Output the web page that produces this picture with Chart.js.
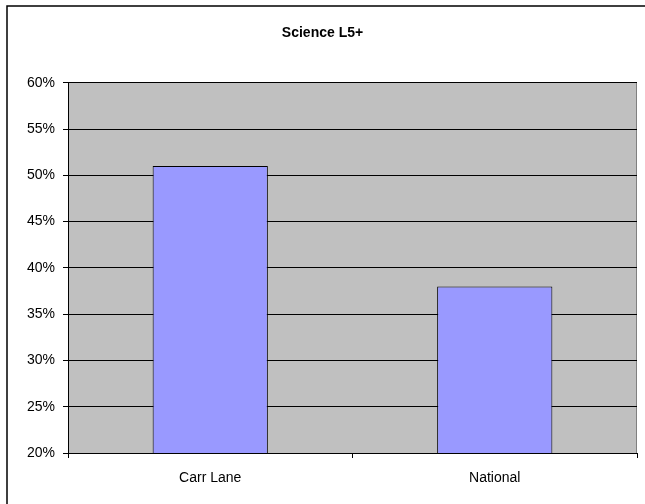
<!DOCTYPE html>
<html>
<head>
<meta charset="utf-8">
<script src="https://cdn.jsdelivr.net/npm/chart.js@4/dist/chart.umd.min.js"></script>
<style>
  html, body { margin: 0; padding: 0; background: #fff; }
  #wrap { width: 645px; height: 504px; }
</style>
</head>
<body>
<div id="wrap"><canvas id="chart1"></canvas></div>
<script>
// Values
const categories = ["Carr Lane", "National"];
const scienceL5 = [51, 38];
const yTicks = [20, 25, 30, 35, 40, 45, 50, 55, 60];

// grey plot background + outer frame like the Excel chart area
const chartBg = {
    id: 'chartBg',
    beforeDraw(chart) {
        const a = chart.chartArea;
        const c = chart.ctx;
        c.save();
        c.fillStyle = '#c0c0c0';
        c.fillRect(a.left, a.top, a.right - a.left, a.bottom - a.top);
        c.strokeStyle = '#808080';
        c.lineWidth = 1;
        c.beginPath();
        c.moveTo(a.right - 0.5, a.top);
        c.lineTo(a.right - 0.5, a.bottom);
        c.stroke();
        c.restore();
    },
    afterDraw(chart) {
        const c = chart.ctx;
        c.save();
        c.strokeStyle = '#000';
        c.lineWidth = 1.5;
        c.beginPath();
        c.moveTo(7, 504);
        c.lineTo(7, 6);
        c.lineTo(645, 6);
        c.stroke();
        c.restore();
    }
};

const ctx = document.getElementById('chart1').getContext('2d');
const myChart = new Chart(ctx, {
    type: 'bar',
    data: {
        labels: categories,
        datasets: [
            {
                label: 'Science L5+',
                data: scienceL5,
                backgroundColor: '#9999ff',
                borderColor: '#000000',
                borderWidth: 1,
                borderSkipped: 'bottom',
                barPercentage: 0.405,
                categoryPercentage: 1
            }
        ]
    },
    options: {
        responsive: true,
        maintainAspectRatio: false,
        animation: false,
        layout: { padding: { left: 8, right: 8, top: 0, bottom: 0 } },
        plugins: {
            legend: { display: false },
            tooltip: { enabled: false },
            title: {
                display: true,
                text: 'Science L5+',
                color: '#000',
                font: { family: 'Liberation Sans, Arial', size: 14, weight: 'bold' },
                padding: { top: 25, bottom: 41 }
            }
        },
        scales: {
            x: {
                offset: true,
                grid: {
                    offset: true,
                    drawOnChartArea: false,
                    drawTicks: true,
                    tickLength: 5,
                    color: '#000'
                },
                border: { color: '#000', width: 1 },
                ticks: {
                    color: '#000',
                    padding: 12,
                    font: { family: 'Liberation Sans, Arial', size: 14 }
                },
                afterFit(scale) { scale.height = 51; }
            },
            y: {
                min: 20,
                max: 60,
                afterBuildTicks(scale) {
                    scale.ticks = yTicks.map(v => ({ value: v }));
                },
                grid: {
                    color: '#000',
                    lineWidth: 1,
                    drawTicks: true,
                    tickLength: 5
                },
                border: { color: '#000', width: 1 },
                ticks: {
                    color: '#000',
                    padding: 8,
                    font: { family: 'Liberation Sans, Arial', size: 14 },
                    callback: v => v + '%'
                },
                afterFit(scale) { scale.width = 60; }
            }
        }
    },
    plugins: [chartBg]
});
</script>
</body>
</html>
